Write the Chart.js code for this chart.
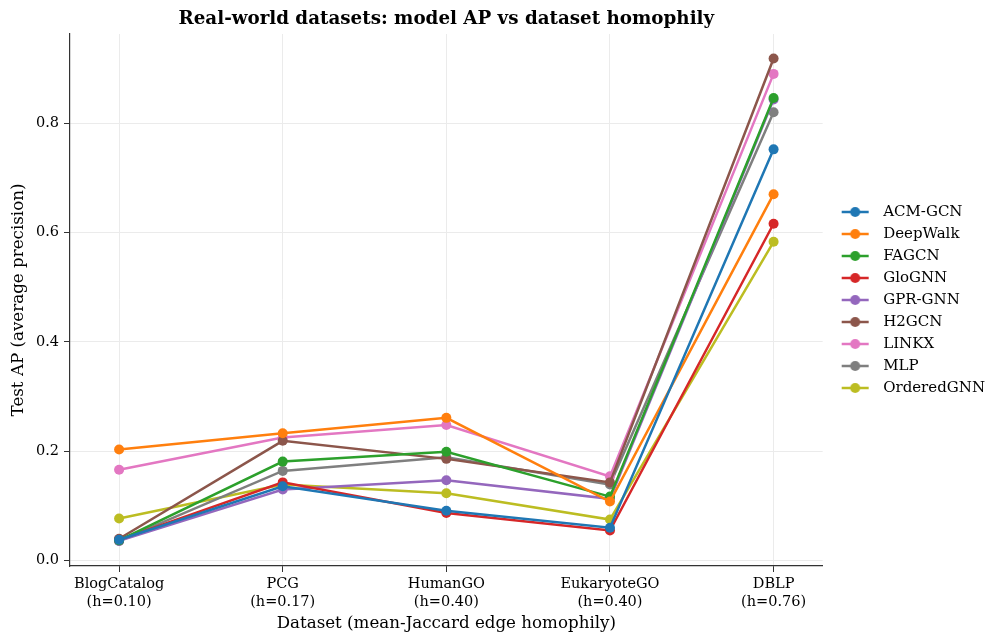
<!DOCTYPE html>
<html>
<head>
<meta charset="utf-8">
<script src="https://cdn.jsdelivr.net/npm/chart.js@4"></script>
<style>
  html, body { margin: 0; padding: 0; background: #fff; }
  #wrap { width: 990px; height: 635px; }
</style>
</head>
<body>
<div id="wrap"><canvas id="chart"></canvas></div>
<script>
// Datasets on the x axis (name + homophily)
const categories = ['BlogCatalog', 'PCG', 'HumanGO', 'EukaryoteGO', 'DBLP'];
const homophily = ['h=0.10', 'h=0.17', 'h=0.40', 'h=0.40', 'h=0.76'];
const yTicks = [0.0, 0.2, 0.4, 0.6, 0.8];

// Test AP per model, one value per dataset
const acmGcn     = [0.038, 0.136, 0.091, 0.060, 0.752];
const deepWalk   = [0.203, 0.233, 0.261, 0.108, 0.670];
const fagcn      = [0.037, 0.181, 0.199, 0.117, 0.846];
const gloGnn     = [0.038, 0.143, 0.087, 0.055, 0.616];
const gprGnn     = [0.036, 0.130, 0.147, 0.113, 0.843];
const h2gcn      = [0.040, 0.219, 0.186, 0.143, 0.918];
const linkx      = [0.166, 0.225, 0.248, 0.154, 0.890];
const mlp        = [0.036, 0.164, 0.189, 0.139, 0.820];
const orderedGnn = [0.077, 0.139, 0.123, 0.075, 0.583];

const models = ['ACM-GCN', 'DeepWalk', 'FAGCN', 'GloGNN', 'GPR-GNN', 'H2GCN', 'LINKX', 'MLP', 'OrderedGNN'];
const series = [acmGcn, deepWalk, fagcn, gloGnn, gprGnn, h2gcn, linkx, mlp, orderedGnn];

// matplotlib tab10
const TAB10 = ['#1f77b4', '#ff7f0e', '#2ca02c', '#d62728', '#9467bd', '#8c564b', '#e377c2', '#7f7f7f', '#bcbd22'];

const FONT = "'DejaVu Serif', serif";

// line + dot swatch for the legend (left part of the image is blank spacing)
const swatch = (color) => {
  const c = document.createElement('canvas');
  c.width = 46; c.height = 12;
  const g = c.getContext('2d');
  g.strokeStyle = color;
  g.lineWidth = 2.5;
  g.beginPath(); g.moveTo(12, 6); g.lineTo(39, 6); g.stroke();
  g.fillStyle = color;
  g.beginPath(); g.arc(25.5, 6, 5, 0, Math.PI * 2); g.fill();
  return c;
};

const datasets = models.map((name, i) => ({
  label: name,
  data: series[i].map((v, j) => ({ x: j, y: v })),
  borderColor: TAB10[i],
  backgroundColor: TAB10[i],
  pointBackgroundColor: TAB10[i],
  pointBorderWidth: 0,
  pointRadius: 5,
  borderWidth: 2.5,
  tension: 0
}));

new Chart(document.getElementById('chart'), {
  type: 'line',
  data: { datasets },
  options: {
    responsive: true,
    maintainAspectRatio: false,
    animation: false,
    layout: { padding: { left: 0, right: -5, top: 0, bottom: 0 } },
    plugins: {
      title: {
        display: true,
        fullSize: false,
        text: 'Real-world datasets: model AP vs dataset homophily',
        color: '#000',
        font: { family: FONT, size: 18.3, weight: 'bold', lineHeight: 1.2 },
        padding: { top: 8, bottom: 4 }
      },
      legend: {
        position: 'right',
        fullSize: false,
        labels: {
          usePointStyle: true,
          pointStyleWidth: 46,
          color: '#000',
          font: { family: FONT, size: 15 },
          padding: 7,
          generateLabels: (chart) => chart.data.datasets.map((ds, i) => ({
            text: ds.label,
            pointStyle: swatch(ds.borderColor),
            fillStyle: ds.borderColor,
            strokeStyle: ds.borderColor,
            lineWidth: 0,
            datasetIndex: i,
            hidden: false
          }))
        }
      },
      tooltip: { enabled: false }
    },
    scales: {
      x: {
        type: 'linear',
        min: -0.3,
        max: 4.3,
        afterBuildTicks: axis => { axis.ticks = categories.map((_, i) => ({ value: i })); },
        afterFit: scale => { scale.height = 69; },
        ticks: {
          color: '#000',
          font: { family: FONT, size: 14.5, lineHeight: 1.2 },
          padding: 4,
          maxRotation: 0,
          callback: v => [categories[v], '(' + homophily[v] + ')']
        },
        grid: { color: '#ebebeb', lineWidth: 1, tickColor: '#333', tickLength: 6 },
        border: { color: '#333', width: 1.2 },
        title: {
          display: true,
          text: 'Dataset (mean-Jaccard edge homophily)',
          color: '#000',
          font: { family: FONT, size: 16.7, lineHeight: 1.2 },
          padding: { top: 2, bottom: 1 }
        }
      },
      y: {
        min: -0.0099,
        max: 0.963,
        afterBuildTicks: axis => { axis.ticks = yTicks.map(v => ({ value: v })); },
        afterFit: scale => { scale.width = 70; },
        ticks: {
          color: '#000',
          font: { family: FONT, size: 14.5 },
          padding: 5,
          callback: v => v.toFixed(1)
        },
        grid: { color: '#ebebeb', lineWidth: 1, tickColor: '#333', tickLength: 6 },
        border: { color: '#333', width: 1.2 },
        title: {
          display: true,
          text: 'Test AP (average precision)',
          color: '#000',
          font: { family: FONT, size: 16.7, lineHeight: 1.2 },
          padding: { top: 9, bottom: 4 }
        }
      }
    }
  }
});
</script>
</body>
</html>
